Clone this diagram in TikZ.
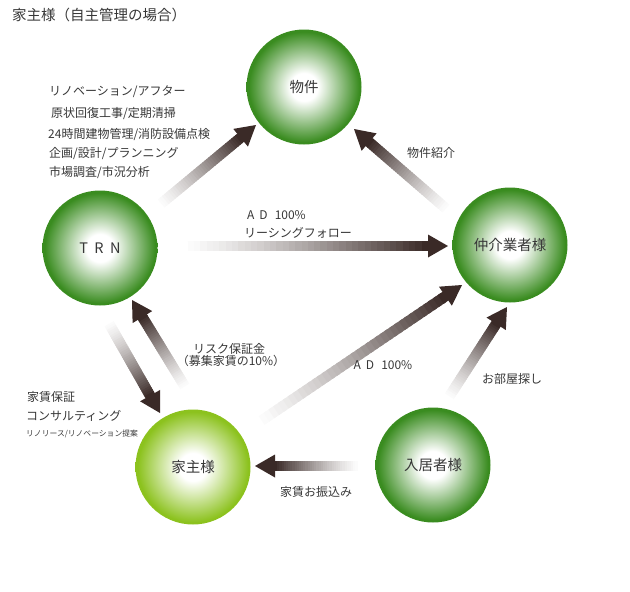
\documentclass[tikz,border=0pt]{standalone}
\usepackage{fontspec}
\setmainfont{Noto Sans CJK JP}
\usetikzlibrary{calc}

\definecolor{ballgreen}{RGB}{58,140,32}
\definecolor{balllime}{RGB}{140,194,30}
\definecolor{arrowdark}{RGB}{58,42,39}
\definecolor{textgrey}{RGB}{55,55,55}

\pgfdeclareradialshading{greenshade}{\pgfpoint{0bp}{0bp}}{%
  color(0bp)=(white); color(6bp)=(white); color(24bp)=(ballgreen); color(50bp)=(ballgreen)}
\pgfdeclareradialshading{limeshade}{\pgfpoint{0bp}{0bp}}{%
  color(0bp)=(white); color(6bp)=(white); color(24bp)=(balllime); color(50bp)=(balllime)}

% thick arrow fading from white at the tail to dark at the head
\newcommand{\fadearrow}[2]{%
  \coordinate (hb) at ($(#2)!20pt!(#1)$);
  \foreach \k [evaluate=\k as \pct using int(100*(\k/39)^1.3)] in {0,...,39}
    \draw[shaft, draw=arrowdark!\pct!white] ($(#1)!\k/40!(hb)$) -- ($(#1)!\k/40+0.04!(hb)$);
  \fill[arrowdark] ($(hb)!11.5pt!90:(#2)$) -- (#2) -- ($(hb)!11.5pt!-90:(#2)$) -- cycle;
}

\begin{document}
\begin{tikzpicture}[x=1pt,y=-1pt,
    ball/.style={circle,inner sep=0pt,minimum size=115pt,shade,shading=greenshade,
      text=textgrey,font=\fontsize{14.5}{16}\selectfont},
    ownerball/.style={ball,shading=limeshade},
    txt/.style={inner sep=0pt,text=textgrey,font=\fontsize{12}{14}\selectfont},
    shaft/.style={line width=10.5pt}]

\useasboundingbox (0,0) rectangle (630,592);

\node[txt,anchor=west,font=\fontsize{14.5}{16}\selectfont] (title) at (12,15) {家主様（自主管理の場合）};

\node[ball] (bukken) at (304,87) {物件};
\node[ball] (trn) at (100,248) {T\hspace{0.45em}R\hspace{0.45em}N};
\node[ball] (chukai) at (510,245) {仲介業者様};
\node[ownerball] (yanushi) at (193,467) {家主様};
\node[ball] (nyukyo) at (433,465) {入居者様};

% arrow ends
\coordinate (a1) at ($(trn)+(57,-41)$);
\coordinate (b1) at ($(bukken)+(-48,38)$);
\coordinate (a2) at ($(chukai)+(-60,-33)$);
\coordinate (b2) at ($(bukken)+(50,42)$);
\coordinate (a3) at ($(trn)+(75,-2)$);
\coordinate (b3) at ($(chukai)+(-62,1)$);
\coordinate (a4) at ($(trn)+(7,72)$);
\coordinate (b4) at ($(yanushi)+(-33,-54)$);
\coordinate (a5) at ($(yanushi)+(-6,-77)$);
\coordinate (b5) at ($(trn)+(32,52)$);
\coordinate (a6) at ($(yanushi)+(59,-40)$);
\coordinate (b6) at ($(chukai)+(-48,40)$);
\coordinate (a7) at ($(nyukyo)+(14,-65)$);
\coordinate (b7) at ($(chukai)+(-3,62)$);
\coordinate (a8) at ($(nyukyo)+(-71,1)$);
\coordinate (b8) at ($(yanushi)+(62,-1)$);

\fadearrow{a1}{b1}
\fadearrow{a2}{b2}
\fadearrow{a3}{b3}
\fadearrow{a4}{b4}
\fadearrow{a5}{b5}
\fadearrow{a6}{b6}
\fadearrow{a7}{b7}
\fadearrow{a8}{b8}

% TRN services
\node[txt,anchor=west] (s1) at (49,92) {リノベーション/アフター};
\node[txt,anchor=west] (s2) at (51,114) {原状回復工事/定期清掃};
\node[txt,anchor=west] (s3) at (48,135) {24時間建物管理/消防設備点検};
\node[txt,anchor=west] (s4) at (49,154) {企画/設計/プランニング};
\node[txt,anchor=west] (s5) at (49,173) {市場調査/市況分析};

% owner services
\node[txt,anchor=west] (o1) at (27,397) {家賃保証};
\node[txt,anchor=west] (o2) at (26,416) {コンサルティング};
\node[txt,anchor=west,font=\fontsize{7.8}{9}\selectfont] (o3) at (26,434) {リノリース/リノベーション提案};

% arrow labels
\node[txt] (l2) at (431,153) {物件紹介};
\node[txt,anchor=west] (l3a) at (247,215) {A\hspace{5pt}D\hspace{7pt}100\%};
\node[txt,anchor=west] (l3b) at (244,233) {リーシングフォロー};
\node[txt] (l5a) at (229,349) {リスク保証金};
\node[txt] (l5b) at (231,361) {（募集家賃の10\%）};
\node[txt] (l6) at (383,365) {A\hspace{5pt}D\hspace{7pt}100\%};
\node[txt] (l7) at (512,379) {お部屋探し};
\node[txt] (l8) at (316,492) {家賃お振込み};

\end{tikzpicture}
\end{document}
